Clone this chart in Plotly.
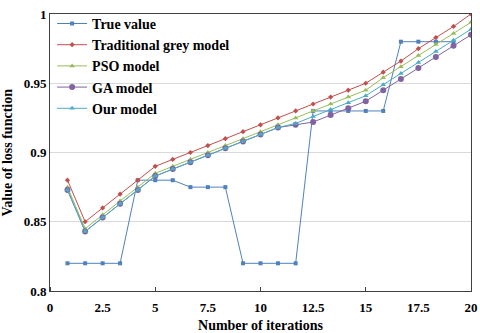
import plotly.graph_objects as go

iterations = [0.83, 1.67, 2.5, 3.33, 4.17, 5, 5.83, 6.67, 7.5, 8.33, 9.17, 10,
              10.83, 11.67, 12.5, 13.33, 14.17, 15, 15.83, 16.67, 17.5, 18.33, 19.17, 20]

true_value = [0.82, 0.82, 0.82, 0.82, 0.88, 0.88, 0.88, 0.875, 0.875, 0.875, 0.82, 0.82,
              0.82, 0.82, 0.93, 0.93, 0.93, 0.93, 0.93, 0.98, 0.98, 0.98, 0.98]
grey_model = [0.88, 0.85, 0.86, 0.87, 0.88, 0.89, 0.895, 0.90, 0.905, 0.91, 0.915, 0.92,
              0.925, 0.93, 0.935, 0.94, 0.945, 0.95, 0.958, 0.966, 0.975, 0.983, 0.991, 1.0]
pso_model = [0.875, 0.845, 0.855, 0.865, 0.875, 0.885, 0.89, 0.895, 0.90, 0.905, 0.91, 0.915,
             0.92, 0.925, 0.93, 0.935, 0.94, 0.945, 0.954, 0.962, 0.970, 0.978, 0.986, 0.994]
ga_model = [0.873, 0.843, 0.853, 0.863, 0.873, 0.883, 0.888, 0.893, 0.898, 0.903, 0.908, 0.913,
            0.918, 0.92, 0.922, 0.927, 0.932, 0.937, 0.945, 0.953, 0.961, 0.969, 0.977, 0.985]
our_model = [0.873, 0.843, 0.853, 0.863, 0.873, 0.883, 0.888, 0.893, 0.898, 0.903, 0.908, 0.913,
             0.918, 0.921, 0.926, 0.931, 0.936, 0.941, 0.949, 0.957, 0.965, 0.973, 0.981, 0.989]

x_ticks = [0, 2.5, 5, 7.5, 10, 12.5, 15, 17.5, 20]
x_labels = ["0", "2.5", "5", "7.5", "10", "12.5", "15", "17.5", "20"]
y_ticks = [0.8, 0.85, 0.9, 0.95, 1.0]
y_labels = ["0.8", "0.85", "0.9", "0.95", "1"]

series = [
    ("True value", true_value, "#4F81BD", "square", 4),
    ("Traditional grey model", grey_model, "#C0504D", "diamond", 4),
    ("PSO model", pso_model, "#9BBB59", "triangle-up", 5),
    ("GA model", ga_model, "#8064A2", "circle", 6),
    ("Our model", our_model, "#4BACC6", "triangle-up", 5),
]

font = "Liberation Serif, Times New Roman, serif"
bold13 = dict(family=font, size=13, color="#000000", weight="bold")
bold14 = dict(family=font, size=14, color="#000000", weight="bold")

fig = go.Figure()
for name, values, color, symbol, size in series:
    fig.add_trace(go.Scatter(
        x=iterations[:len(values)], y=values, name=name, mode="lines+markers",
        line=dict(color=color, width=1),
        marker=dict(symbol=symbol, size=size, color=color),
    ))

axis_common = dict(
    showline=True, linecolor="#404040", linewidth=1, mirror=True,
    tickfont=bold13, zeroline=False, automargin=False, tickmode="array",
)

fig.update_layout(
    width=480, height=333,
    margin=dict(l=50, r=9, t=8, b=42),
    paper_bgcolor="white", plot_bgcolor="white",
    font=dict(family=font, color="#000000"),
    showlegend=True,
    legend=dict(
        x=0.005, y=1.022, xanchor="left", yanchor="top",
        bgcolor="rgba(0,0,0,0)", itemwidth=30, tracegroupgap=0,
        font=bold14,
    ),
    xaxis=dict(
        range=[0, 20], showgrid=False, ticks="", ticklabelstandoff=4,
        tickvals=x_ticks, ticktext=[f"<b>{t}</b>" for t in x_labels],
        minor=dict(dtick=5, ticks="inside", ticklen=4, tickcolor="#404040"),
        title=dict(text="Number of iterations", font=bold14, standoff=11),
        **axis_common,
    ),
    yaxis=dict(
        range=[0.8, 1.0], showgrid=True, gridcolor="#d9d9d9", ticks="",
        tickvals=y_ticks, ticktext=[f"<b>{t}</b>" for t in y_labels],
        **axis_common,
    ),
    annotations=[dict(
        text="Value of loss function", textangle=-90, showarrow=False,
        xref="paper", yref="paper", x=-0.0998, y=0.5,
        xanchor="center", yanchor="middle", font=bold14,
    )],
)

# drop the default 8px body margin so the figure sits at the page corner
fig.write_html(
    "out.html",
    config={"displayModeBar": False},
    post_script="document.body.style.margin = '0';",
)
